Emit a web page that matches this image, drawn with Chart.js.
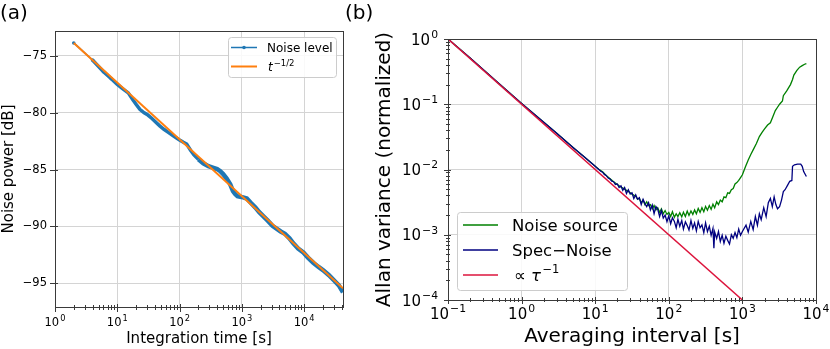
<!DOCTYPE html>
<html>
<head>
<meta charset="utf-8">
<script src="https://cdn.jsdelivr.net/npm/chart.js@4"></script>
<style>
  body { margin: 0; background: #fff; width: 830px; height: 349px; position: relative; overflow: hidden; font-family: "DejaVu Sans", sans-serif; }
  #wa { position: absolute; left: 0; top: 0; width: 360px; height: 349px; }
  #wb { position: absolute; left: 360px; top: 0; width: 470px; height: 349px; }
  .tag { position: absolute; top: 2px; font-size: 20px; line-height: 20px; color: #000; }
</style>
</head>
<body>
<div id="wa"><canvas id="chart-a" width="360" height="349"></canvas></div>
<div id="wb"><canvas id="chart-b" width="470" height="349"></canvas></div>
<div class="tag" style="left:0">(a)</div>
<div class="tag" style="left:345px">(b)</div>
<script>
// (a) noise level vs integration time
var timeA = [2, 4, 6, 8, 10, 12, 15, 18, 20, 23, 27, 31, 36, 42, 48, 56, 65, 75, 88, 100,
  115, 130, 150, 170, 200, 240, 290, 350, 400, 450, 500, 570, 650, 720, 780, 850, 940, 1050, 1200, 1400,
  1650, 1900, 2200, 2600, 3100, 3600, 4200, 4900, 5800, 6700, 8000, 9700, 11500, 14000, 16800, 20000, 25000, 30000, 36000, 42000];
var noiseA = [-73.85, -75.35, -76.38, -77.0, -77.5, -77.85, -78.25, -78.9, -79.25, -79.7, -80.0, -80.2, -80.5, -80.85, -81.15, -81.45, -81.7, -81.95, -82.2, -82.4,
  -82.6, -82.75, -83.3, -83.7, -84.1, -84.45, -84.7, -84.85, -84.95, -85.15, -85.4, -85.8, -86.3, -86.9, -87.15, -87.35, -87.4, -87.45, -87.55, -87.95,
  -88.35, -88.75, -89.1, -89.5, -89.95, -90.2, -90.45, -90.65, -91.05, -91.5, -91.95, -92.3, -92.75, -93.2, -93.55, -93.85, -94.3, -94.75, -95.2, -95.8];
var fitTime = [2, 42000];
var fitLevel = [-73.85, -95.46];

// (b) Allan variance
var greenTau = [0.1, 0.2, 0.5, 1, 2, 3, 5, 7, 10, 11.2, 12.6, 14.1, 15.8, 17.8, 20, 22.4, 25.1, 28.2, 31.6, 35.5,
  37.6, 39.8, 42.2, 44.7, 47.3, 50.1, 53.1, 56.2, 59.6, 63.1, 66.8, 70.8, 75, 79.4, 84.1, 89.1, 94.4, 100,
  106, 112, 119, 126, 133, 141, 150, 158, 168, 178, 188, 200, 212, 224, 237, 251, 266, 282, 299, 316,
  335, 355, 376, 398, 420, 447, 473, 501, 531, 562, 596, 631, 668, 708, 750, 794, 841, 891, 944, 1000,
  1100, 1200, 1300, 1400, 1550, 1700, 1850, 2000, 2200, 2400, 2600, 2800, 3000, 3200, 3500, 3600, 4000, 4500, 4800, 5000, 5500, 6000, 6500, 7000, 7400];
var greenVal = [1.0, 0.51, 0.205, 0.103, 0.053, 0.036, 0.0218, 0.0158, 0.0112, 0.0101, 0.0092, 0.0081, 0.0073, 0.0065, 0.0059, 0.0054, 0.0050, 0.0046, 0.0042, 0.0039,
  0.0035, 0.0036, 0.0031, 0.0034, 0.0029, 0.0032, 0.0028, 0.0029, 0.0025, 0.0028, 0.0024, 0.0026, 0.0022, 0.0025, 0.0021, 0.00235, 0.00205, 0.0022,
  0.0019, 0.00225, 0.00185, 0.0021, 0.0019, 0.00218, 0.00188, 0.00222, 0.0019, 0.0023, 0.00198, 0.00232, 0.00205, 0.0024, 0.0021, 0.00252, 0.0022, 0.0026, 0.00225, 0.00272,
  0.00238, 0.0028, 0.00245, 0.00295, 0.0026, 0.0032, 0.0029, 0.0034, 0.0032, 0.0038, 0.0037, 0.0044, 0.0043, 0.0049, 0.0051, 0.0060, 0.0063, 0.0068, 0.0075, 0.0083,
  0.011, 0.014, 0.017, 0.02, 0.025, 0.032, 0.037, 0.042, 0.048, 0.052, 0.065, 0.08, 0.09, 0.1, 0.112, 0.135, 0.16, 0.2, 0.24, 0.28, 0.33, 0.37, 0.39, 0.41, 0.42];
var blueTau = [0.1, 0.2, 0.5, 1, 2, 3, 5, 7, 10, 10.6, 11.2, 11.9, 12.6, 13.3, 14.1, 15, 15.8, 16.8, 17.8, 18.8,
  20, 21.1, 22.4, 23.7, 25.1, 26.6, 28.2, 29.9, 31.6, 33.5, 35.5, 37.6, 39.8, 42.2, 44.7, 47.3, 50.1, 53.1, 56.2, 59.6,
  63.1, 66.8, 70.8, 75, 79.4, 84.1, 89.1, 94.4, 100, 106, 112, 119, 126, 133, 141, 150, 158, 168, 178, 188,
  200, 212, 224, 237, 251, 266, 282, 299, 316, 335, 355, 376, 398, 410, 420, 447, 473, 501, 531, 562,
  596, 631, 668, 708, 750, 794, 841, 891, 944, 1000,
  1120, 1200, 1300, 1400, 1500, 1600, 1700, 1800, 1950, 2100, 2250, 2400, 2550, 2700, 2850, 3000, 3200, 3400, 3600, 3800,
  4100, 4400, 4700, 4800, 5100, 5600, 6200, 6500, 6800, 7400];
var blueVal = [1.0, 0.51, 0.205, 0.103, 0.053, 0.036, 0.0218, 0.0158, 0.0112, 0.0105, 0.0100, 0.0094, 0.0091, 0.0084, 0.0081, 0.0074, 0.0072, 0.0066, 0.0065, 0.0059,
  0.0060, 0.0053, 0.0056, 0.0048, 0.0053, 0.0043, 0.0049, 0.0042, 0.0044, 0.0036, 0.0041, 0.0035, 0.0037, 0.0029, 0.0035, 0.0030, 0.0027, 0.0031, 0.0024, 0.00285,
  0.0021, 0.0027, 0.00245, 0.0019, 0.00235, 0.0018, 0.0020, 0.00158, 0.00195, 0.00148, 0.00182, 0.0016, 0.00128, 0.00172, 0.00135, 0.00165, 0.00122, 0.00158, 0.00138, 0.00118,
  0.00165, 0.00125, 0.00152, 0.00115, 0.0016, 0.00128, 0.00142, 0.00108, 0.00152, 0.00112, 0.00135, 0.00098, 0.00125, 0.00062, 0.0011, 0.00088, 0.00112, 0.00079, 0.00098, 0.00074,
  0.00095, 0.00082, 0.00072, 0.0010, 0.00088, 0.00108, 0.0009, 0.00122, 0.00098, 0.00112,
  0.0014, 0.0011, 0.0016, 0.0012, 0.0019, 0.0014, 0.0021, 0.0017, 0.0026, 0.0019, 0.0031, 0.0036, 0.0027, 0.0038, 0.0029, 0.0025, 0.0027, 0.0034, 0.0046, 0.0049,
  0.0057, 0.0066, 0.0068, 0.0112, 0.0118, 0.0121, 0.0121, 0.0112, 0.0093, 0.0078];
var refTau = [0.1, 1000];
var refVal = [1, 0.0001];

var FONT = '"DejaVu Sans", sans-serif';
Chart.defaults.font.family = FONT;
Chart.defaults.color = '#000';
var gridCol = '#d4d4d4';
var frameCol = '#3a3a3a';

function pts(xs, ys) {
  return xs.map(function (x, i) { return { x: x, y: ys[i] }; });
}
function isPow10(v) {
  var e = Math.round(Math.log10(v));
  return Math.abs(v / Math.pow(10, e) - 1) < 1e-6;
}
function logTicks(min, max) {
  var out = [];
  for (var e = Math.floor(Math.log10(min)); e <= Math.ceil(Math.log10(max)); e++) {
    for (var m = 1; m < 10; m++) {
      var v = m * Math.pow(10, e);
      if (v >= min * 0.999 && v <= max * 1.001) out.push({ v: v, major: m === 1 });
    }
  }
  return out;
}

// "10" with a raised exponent, like matplotlib mathtext
function drawPow(ctx, v, x, y, size, align) {
  var e = Math.round(Math.log10(v));
  var ex = String(e).replace('-', '−');
  ctx.font = size + 'px ' + FONT;
  var w1 = ctx.measureText('10').width;
  ctx.font = (size * 0.72) + 'px ' + FONT;
  var w2 = ctx.measureText(ex).width;
  var total = w1 + w2 + 1;
  var x0 = align === 'center' ? x - total / 2 : x - total;
  ctx.textAlign = 'left';
  ctx.textBaseline = 'alphabetic';
  ctx.font = size + 'px ' + FONT;
  ctx.fillText('10', x0, y);
  ctx.font = (size * 0.72) + 'px ' + FONT;
  ctx.fillText(ex, x0 + w1 + 1, y - size * 0.44);
}

// frame, matplotlib-like "inout" ticks, power-of-ten labels, legend
function axesPlugin(spec) {
  return {
    id: 'axesFrame',
    afterDraw: function (chart) {
      var ctx = chart.ctx, a = chart.chartArea, xs = chart.scales.x, ys = chart.scales.y;
      ctx.save();
      ctx.strokeStyle = frameCol;
      ctx.lineWidth = 1;
      ctx.beginPath();
      spec.xTicks.forEach(function (t) {
        var p = Math.round(xs.getPixelForValue(t.v)) + 0.5;
        var L = t.major ? spec.major : spec.minor;
        ctx.moveTo(p, a.bottom - L[1]);
        ctx.lineTo(p, a.bottom + L[0]);
      });
      spec.yTicks.forEach(function (t) {
        var p = Math.round(ys.getPixelForValue(t.v)) + 0.5;
        var L = t.major ? spec.major : spec.minor;
        ctx.moveTo(a.left - L[0], p);
        ctx.lineTo(a.left + L[1], p);
      });
      ctx.stroke();
      ctx.strokeRect(Math.round(a.left) + 0.5, Math.round(a.top) + 0.5,
        Math.round(a.right - a.left), Math.round(a.bottom - a.top));
      ctx.fillStyle = '#000';
      if (spec.xLabels) {
        spec.xTicks.forEach(function (t) {
          if (t.major) drawPow(ctx, t.v, xs.getPixelForValue(t.v), a.bottom + spec.xLabels.dy, spec.xLabels.size, 'center');
        });
      }
      if (spec.yLabels) {
        spec.yTicks.forEach(function (t) {
          if (t.major) drawPow(ctx, t.v, a.left - spec.yLabels.pad, ys.getPixelForValue(t.v) + spec.yLabels.size * 0.37, spec.yLabels.size, 'right');
        });
      }
      if (spec.legend) spec.legend(ctx);
      ctx.restore();
    }
  };
}

function legendBox(ctx, x, y, w, h) {
  ctx.beginPath();
  ctx.roundRect(x + 0.5, y + 0.5, w, h, 3);
  ctx.fillStyle = 'rgba(255,255,255,0.85)';
  ctx.fill();
  ctx.strokeStyle = '#cccccc';
  ctx.lineWidth = 1;
  ctx.stroke();
}
function legendLine(ctx, x0, x1, y, color, width) {
  ctx.beginPath();
  ctx.moveTo(x0, y);
  ctx.lineTo(x1, y);
  ctx.strokeStyle = color;
  ctx.lineWidth = width;
  ctx.stroke();
}

function legendA(ctx) {
  legendBox(ctx, 228, 37, 108, 40);
  legendLine(ctx, 231, 257, 47.5, '#1f77b4', 1.5);
  ctx.beginPath();
  ctx.arc(244, 47.5, 1.8, 0, Math.PI * 2);
  ctx.fillStyle = '#1f77b4';
  ctx.fill();
  legendLine(ctx, 231, 257, 66.5, '#ff7f0e', 2);
  ctx.fillStyle = '#000';
  ctx.textAlign = 'left';
  ctx.textBaseline = 'alphabetic';
  ctx.font = '12px ' + FONT;
  ctx.fillText('Noise level', 267, 52);
  ctx.font = 'italic 12px ' + FONT;
  ctx.fillText('t', 268, 71);
  var w = ctx.measureText('t').width;
  ctx.font = '8.5px ' + FONT;
  ctx.fillText('−1/2', 268 + w + 1, 65.5);
}

function legendB(ctx) {
  var ox = -360;
  legendBox(ctx, 457 + ox, 212, 170, 78);
  legendLine(ctx, 463 + ox, 498 + ox, 225, 'green', 1.5);
  legendLine(ctx, 463 + ox, 498 + ox, 250, 'navy', 1.5);
  legendLine(ctx, 463 + ox, 498 + ox, 275, 'crimson', 1.5);
  ctx.fillStyle = '#000';
  ctx.textAlign = 'left';
  ctx.textBaseline = 'alphabetic';
  ctx.font = '16.5px ' + FONT;
  ctx.fillText('Noise source', 512 + ox, 231);
  ctx.fillText('Spec−Noise', 512 + ox, 256);
  ctx.fillText('∝', 514 + ox, 281);
  var w = ctx.measureText('∝ ').width;
  ctx.font = 'italic 16.5px ' + FONT;
  ctx.fillText('τ', 514 + ox + w, 281);
  var w2 = ctx.measureText('τ').width;
  ctx.font = '11.5px ' + FONT;
  ctx.fillText('−1', 514 + ox + w + w2 + 1.5, 273);
}

function pow10Grid(c) {
  return c.tick && isPow10(c.tick.value) ? gridCol : 'rgba(0,0,0,0)';
}

var ctxA = document.getElementById('chart-a').getContext('2d');
var chartA = new Chart(ctxA, {
  type: 'line',
  data: {
    datasets: [{
      label: 'Noise level',
      data: pts(timeA, noiseA),
      borderColor: '#1f77b4',
      backgroundColor: '#1f77b4',
      borderWidth: 1.5,
      pointRadius: function (c) { return c.raw && c.raw.x < 9 ? 1.8 : 0; },
      pointBorderWidth: 0,
      segment: {
        borderWidth: function (c) { return c.p0.parsed.x < 4 ? 1.5 : (c.p0.parsed.x < 200 ? 3.5 : 4.5); }
      },
      order: 2
    }, {
      label: 't^-1/2',
      data: pts(fitTime, fitLevel),
      borderColor: '#ff7f0e',
      borderWidth: 2,
      pointRadius: 0,
      order: 1
    }]
  },
  options: {
    responsive: false,
    animation: false,
    devicePixelRatio: 1,
    layout: { padding: { top: 31, right: 17, left: 0, bottom: 0 } },
    plugins: { legend: { display: false }, tooltip: { enabled: false } },
    scales: {
      x: {
        type: 'logarithmic',
        min: 1,
        max: 42000,
        grid: { color: pow10Grid, drawTicks: false },
        border: { display: false },
        ticks: { display: false, autoSkip: false },
        title: { display: true, text: 'Integration time [s]', font: { size: 15 }, color: '#000', padding: { top: 0, bottom: 1 } },
        afterFit: function (s) { s.height = 42; }
      },
      y: {
        min: -97.1,
        max: -72.8,
        grid: { color: gridCol, drawTicks: false },
        border: { display: false },
        ticks: {
          stepSize: 5,
          includeBounds: false,
          padding: 8,
          font: { size: 11.5 },
          color: '#000',
          callback: function (v) { return String(v).replace('-', '−'); }
        },
        title: { display: true, text: 'Noise power [dB]', font: { size: 15 }, color: '#000', padding: { top: 0 } },
        afterFit: function (s) { s.width = 55; }
      }
    }
  },
  plugins: [axesPlugin({
    xTicks: logTicks(1, 42000),
    yTicks: [-95, -90, -85, -80, -75].map(function (v) { return { v: v, major: true }; }),
    major: [5, 3],
    minor: [3, 2],
    xLabels: { size: 11.5, dy: 19 },
    legend: legendA
  })]
});

var ctxB = document.getElementById('chart-b').getContext('2d');
var chartB = new Chart(ctxB, {
  type: 'line',
  data: {
    datasets: [{
      label: 'Noise source',
      data: pts(greenTau, greenVal),
      borderColor: 'green',
      borderWidth: 1.3,
      pointRadius: 0,
      order: 3
    }, {
      label: 'Spec−Noise',
      data: pts(blueTau, blueVal),
      borderColor: 'navy',
      borderWidth: 1.3,
      pointRadius: 0,
      order: 2
    }, {
      label: '∝ τ^-1',
      data: pts(refTau, refVal),
      borderColor: 'crimson',
      borderWidth: 1.5,
      pointRadius: 0,
      order: 1
    }]
  },
  options: {
    responsive: false,
    animation: false,
    devicePixelRatio: 1,
    layout: { padding: { top: 39, right: 14, left: 0, bottom: 0 } },
    plugins: { legend: { display: false }, tooltip: { enabled: false } },
    scales: {
      x: {
        type: 'logarithmic',
        min: 0.1,
        max: 10000,
        grid: { color: pow10Grid, drawTicks: false },
        border: { display: false },
        ticks: { display: false, autoSkip: false },
        title: { display: true, text: 'Averaging interval [s]', font: { size: 20 }, color: '#000', padding: { top: 0, bottom: 0 } },
        afterFit: function (s) { s.height = 49; }
      },
      y: {
        type: 'logarithmic',
        min: 0.0001,
        max: 1,
        grid: { color: pow10Grid, drawTicks: false },
        border: { display: false },
        ticks: { display: false, autoSkip: false },
        title: { display: true, text: 'Allan variance (normalized)', font: { size: 20 }, color: '#000', padding: { top: 13 } },
        afterFit: function (s) { s.width = 88; }
      }
    }
  },
  plugins: [axesPlugin({
    xTicks: logTicks(0.1, 10000),
    yTicks: logTicks(0.0001, 1),
    major: [4, 3],
    minor: [2, 2],
    xLabels: { size: 15, dy: 19 },
    yLabels: { size: 15, pad: 10 },
    legend: legendB
  })]
});
</script>
</body>
</html>
